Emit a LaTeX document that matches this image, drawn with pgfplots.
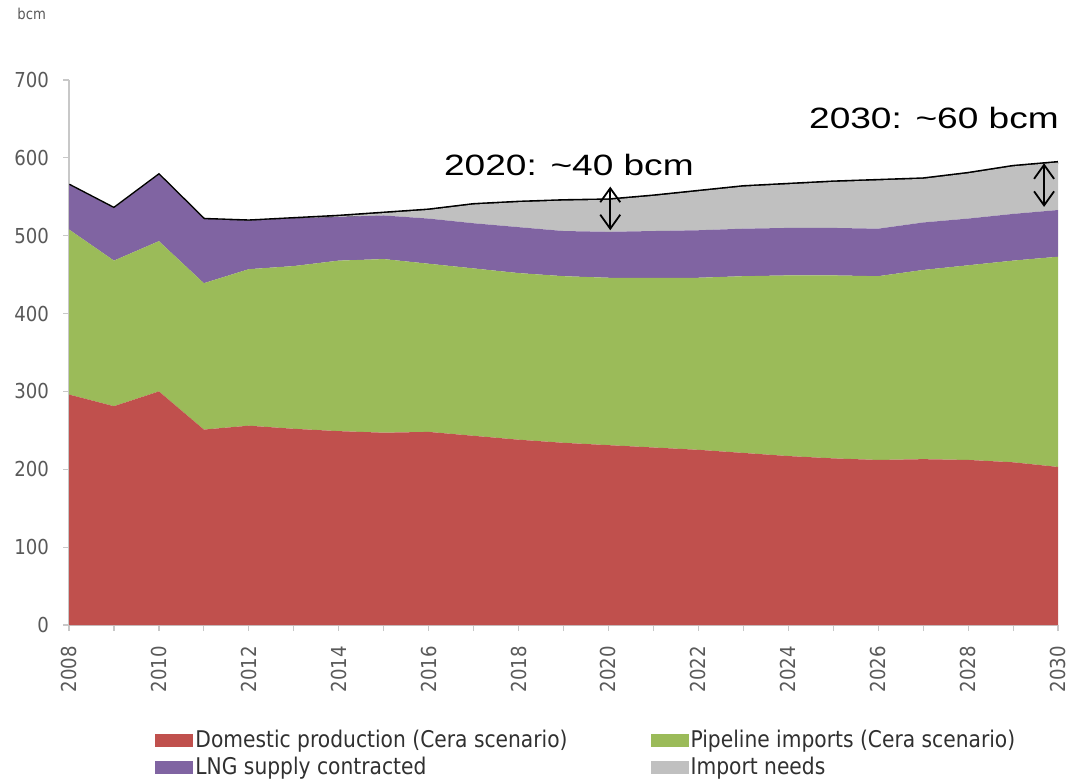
\documentclass[border=0pt]{standalone}
\usepackage{fontspec}
\setmainfont{DejaVu Sans}[FakeStretch=0.88]
\newfontfamily\arialfont{Liberation Sans}
\usepackage{graphicx}
\usepackage{pgfplots}
\usepackage{pgfplotstable}
\pgfplotsset{compat=1.18}
\usetikzlibrary{arrows.meta}

\definecolor{domred}{HTML}{C0504D}
\definecolor{pipegreen}{HTML}{9BBB59}
\definecolor{lngpurple}{HTML}{8064A2}
\definecolor{impgray}{HTML}{C0C0C0}
\definecolor{axisgray}{HTML}{C8C8C8}
\definecolor{tickgray}{HTML}{595959}
\definecolor{legtext}{HTML}{303030}

% Gas supply balance, bcm (stacked components; "zero" carries the total line)
\pgfplotstableread{
year dom pipe lng imp zero
2008 296 212 57 0 0
2009 281 187 67 0 0
2010 300 193 85 0 0
2011 251 188 82 0 0
2012 256 201 62 0 0
2013 252 209 61 0 0
2014 249 219 56 1 0
2015 247 223 56 3 0
2016 248 216 58 11 0
2017 243 215 58 24 0
2018 238 214 59 32 0
2019 234 214 58 39 0
2020 231 215 59 41 0
2021 228 218 60 45 0
2022 225 221 61 50 0
2023 221 227 61 54 0
2024 217 232 61 56 0
2025 214 235 61 59 0
2026 212 236 61 62 0
2027 213 243 61 56 0
2028 212 250 60 58 0
2029 209 259 60 61 0
2030 203 270 60 61 0
}\gasdata

\tikzset{gaparrow/.style={
  {Straight Barb[length=7pt,width=10pt]}-{Straight Barb[length=7pt,width=10pt]},
  line width=0.9pt, black}}

\begin{document}
\begin{tikzpicture}
\useasboundingbox (0,0) rectangle (534.5pt,390.5pt);
\node[anchor=base west, inner sep=0pt, text=tickgray,
      font=\fontsize{7.5}{9}\selectfont] at (8.5pt,380.5pt) {bcm};
\begin{axis}[
  at={(34.5pt,78pt)}, anchor=south west,
  scale only axis, width=494.5pt, height=272.5pt,
  xmin=2008, xmax=2030, ymin=0, ymax=700,
  stack plots=y,
  axis x line*=bottom, axis y line*=left,
  axis line style={draw=axisgray, line width=0.6pt},
  xtick={2008,2010,...,2030},
  minor xtick={2009,2011,...,2029},
  ytick={0,100,...,700},
  tick align=outside,
  major tick length=3pt, minor tick length=3pt,
  every tick/.style={draw=axisgray, line width=0.6pt},
  ticklabel style={font=\fontsize{10.3}{12}\selectfont, text=tickgray},
  xticklabel style={rotate=90, anchor=east},
  xticklabel shift=4pt,
  yticklabel shift=3.5pt,
  /pgf/number format/assume math mode=true,
  /pgf/number format/1000 sep={},
  legend columns=2,
  legend cell align=left,
  legend style={at={(0.087,-0.19)}, anchor=north west, draw=none, fill=none,
    inner sep=0pt, font=\fontsize{11.5}{14}\selectfont, text=legtext,
    column sep=0pt, row sep=2pt,
    /tikz/every even column/.append style={column sep=40.5pt},
    nodes={inner xsep=1pt, inner ysep=0.6pt}},
  legend image code/.code={\fill[#1] (0pt,-3.2pt) rectangle (19pt,3.2pt);},
]
\addplot[draw=none, fill=domred] table[x=year, y=dom] \gasdata \closedcycle;
\addlegendentry{Domestic production (Cera scenario)}
\addplot[draw=none, fill=pipegreen] table[x=year, y=pipe] \gasdata \closedcycle;
\addlegendentry{Pipeline imports (Cera scenario)}
\addplot[draw=none, fill=lngpurple] table[x=year, y=lng] \gasdata \closedcycle;
\addlegendentry{LNG supply contracted}
\addplot[draw=none, fill=impgray] table[x=year, y=imp] \gasdata \closedcycle;
\addlegendentry{Import needs}
\addplot[black, line width=1.6pt, forget plot] table[x=year, y=zero] \gasdata;

% end points of the gap arrows
\coordinate (g20lo) at (axis cs:2020.04,507);
\coordinate (g20hi) at (axis cs:2020.04,563);
\coordinate (g30lo) at (axis cs:2029.69,537);
\coordinate (g30hi) at (axis cs:2029.69,593);
\coordinate (t20) at (axis cs:2019.12,591);
\coordinate (t30) at (axis cs:2027.24,651);
\end{axis}
\draw[gaparrow] (g20lo) -- (g20hi);
\draw[gaparrow] (g30lo) -- (g30hi);
\node[font=\arialfont\fontsize{14.7}{17}\selectfont] at (t20)
  {\scalebox{1.26}[1]{2020: \textasciitilde40 bcm}};
\node[font=\arialfont\fontsize{14.7}{17}\selectfont] at (t30)
  {\scalebox{1.26}[1]{2030: \textasciitilde60 bcm}};
\end{tikzpicture}
\end{document}
